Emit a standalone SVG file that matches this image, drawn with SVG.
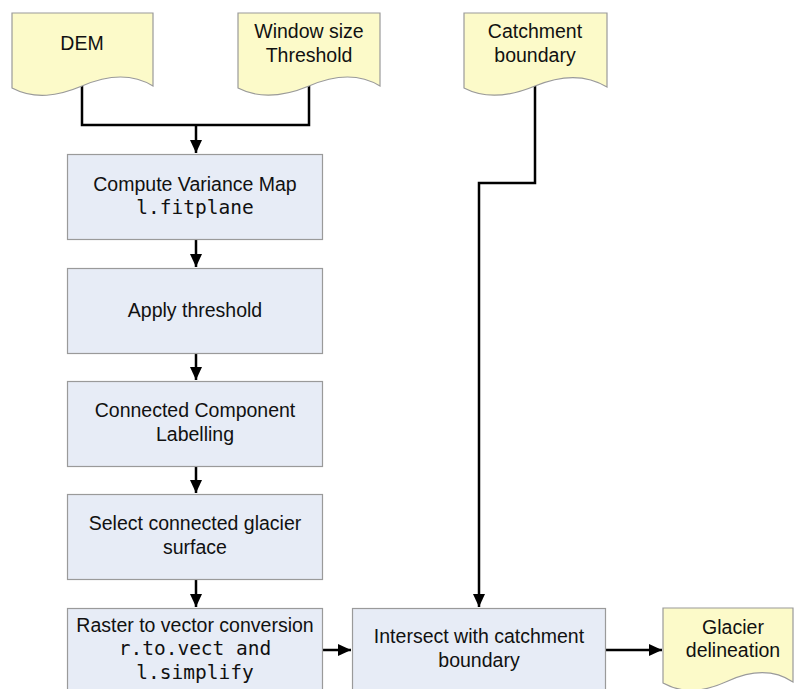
<svg xmlns="http://www.w3.org/2000/svg" width="795" height="689" viewBox="0 0 795 689">
<defs>
<style>
.doc{fill:#FCFAC9;stroke:#9A9A9A;stroke-width:1.2}
.box{fill:#E7ECF6;stroke:#9A9A9A;stroke-width:1.2}
.t{font-family:"Liberation Sans",Arial,sans-serif;font-size:19.5px;fill:#111;text-anchor:middle}
.m{font-family:"DejaVu Sans Mono","Liberation Mono",monospace;font-size:19.5px;fill:#111;text-anchor:middle}
.c{fill:none;stroke:#000;stroke-width:2.5}
</style>
<marker id="ah" markerUnits="userSpaceOnUse" markerWidth="14" markerHeight="14" viewBox="0 0 14 14" refX="13" refY="7" orient="auto">
<path d="M0,1 L13,7 L0,13 Z" fill="#000"/>
</marker>
</defs>
<rect width="795" height="689" fill="#FFFFFF"/>
<g id="connectors">
<path class="c" d="M82,86 V125 H309 V86"/>
<path class="c" d="M196,125 V153" marker-end="url(#ah)"/>
<path class="c" d="M196,239 V267" marker-end="url(#ah)"/>
<path class="c" d="M196,353 V380" marker-end="url(#ah)"/>
<path class="c" d="M196,466 V493" marker-end="url(#ah)"/>
<path class="c" d="M196,579 V607" marker-end="url(#ah)"/>
<path class="c" d="M535,86 V183 H479 V607" marker-end="url(#ah)"/>
<path class="c" d="M323,650 H351" marker-end="url(#ah)"/>
<path class="c" d="M606,650 H662" marker-end="url(#ah)"/>
</g>
<g id="dem">
<path class="doc" d="M12,13 H153 V86 C130,72 105,76 82,86 C58,96 35,100 12,88 Z"/>
<text class="t" x="82" y="50">DEM</text>
</g>
<g id="window">
<path class="doc" d="M238,13 H380 V86 C357,72 332,76 309,86 C285,96 261,100 238,88 Z"/>
<text class="t" x="309" y="38">Window size</text>
<text class="t" x="309" y="62">Threshold</text>
</g>
<g id="catchment">
<path class="doc" d="M464,13 H607 V87 C584,73 559,76 535,86 C511,96 487,100 464,88 Z"/>
<text class="t" x="535" y="38">Catchment</text>
<text class="t" x="535" y="62">boundary</text>
</g>
<g id="variance">
<rect class="box" x="67.5" y="154.5" width="255" height="85"/>
<text class="t" x="195" y="191">Compute Variance Map</text>
<text class="m" x="195" y="214">l.fitplane</text>
</g>
<g id="threshold">
<rect class="box" x="67.5" y="268.5" width="255" height="85"/>
<text class="t" x="195" y="316.5">Apply threshold</text>
</g>
<g id="ccl">
<rect class="box" x="67.5" y="381.5" width="255" height="85"/>
<text class="t" x="195" y="417">Connected Component</text>
<text class="t" x="195" y="441">Labelling</text>
</g>
<g id="select">
<rect class="box" x="67.5" y="494.5" width="255" height="85"/>
<text class="t" x="195" y="530">Select connected glacier</text>
<text class="t" x="195" y="554">surface</text>
</g>
<g id="raster">
<rect class="box" x="67.5" y="608.5" width="255" height="100"/>
<text class="t" x="195" y="632">Raster to vector conversion</text>
<text class="m" x="195" y="655">r.to.vect and</text>
<text class="m" x="195" y="679">l.simplify</text>
</g>
<g id="intersect">
<rect class="box" x="352.5" y="608.5" width="253" height="100"/>
<text class="t" x="479" y="643">Intersect with catchment</text>
<text class="t" x="479" y="667">boundary</text>
</g>
<g id="glacier">
<path class="doc" d="M663,608 H793 V682 C772,668 750,671 728,681 C706,691 685,695 663,683 Z"/>
<text class="t" x="733" y="634">Glacier</text>
<text class="t" x="733" y="657">delineation</text>
</g>
</svg>
